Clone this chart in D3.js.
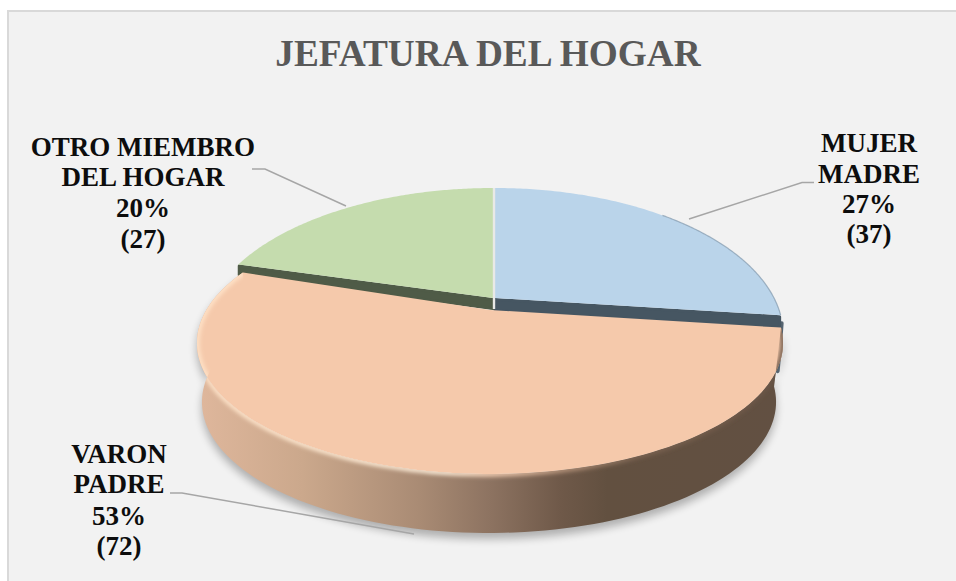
<!DOCTYPE html>
<html><head><meta charset="utf-8">
<script src="https://cdn.jsdelivr.net/npm/d3@7"></script>
<style>html,body{margin:0;padding:0;background:#fff}svg{display:block}text{font-family:"Liberation Serif",serif;font-weight:bold}</style>
</head><body><svg id="c" width="956" height="581"></svg>
<script>
const chartTitle = "JEFATURA DEL HOGAR";
const categories = ["MUJER MADRE", "VARON PADRE", "OTRO MIEMBRO DEL HOGAR"];
const values = [37, 72, 27];
const labelLines = [["MUJER","MADRE"], ["VARON","PADRE"], ["OTRO MIEMBRO","DEL HOGAR"]];
const colors = ["#bad4ea", "#f5c9ab", "#c5dcae"];
const bandColors = ["#465662", "#000000", "#4f5b47"];

const svg = d3.select("#c");
const defs = svg.append("defs");
const W = 956, H = 581;
svg.append("rect").attr("x",8).attr("y",11).attr("width",W).attr("height",H)
  .attr("fill","#f2f2f2").attr("stroke","#d9d9d9").attr("stroke-width",2);

const blur = (id,s)=>defs.append("filter").attr("id",id).attr("x","-20%").attr("y","-20%").attr("width","140%").attr("height","140%")
  .append("feGaussianBlur").attr("stdDeviation",s);
blur("b5",4.5); blur("b2",2.0);

// perspective projection of the tilted disc
const K = 0.2518;
const proj = (g,a)=>{ const x=Math.sin(a), y=Math.cos(a), w=1+K*y;
  return [g.cx+g.rx*x/w, g.cy-g.ry*y/w]; };
const gBlue  = {cx:495, cy:298, rx:279, ry:137.7};
const gGreen = {cx:493, cy:298, rx:281, ry:137.7};
const gTop   = {cx:490, cy:310, rx:283.6, ry:122.7};
const gBase  = {cx:489, cy:369, rx:277.8, ry:122.7};

const pie = d3.pie().sort(null).value(d=>d).startAngle(0).endAngle(2*Math.PI);
const arcs = pie(values);
const deg = Math.PI/180;
const arcPts = (g,a0,a1)=>d3.range(0,121).map(i=>proj(g,a0+(a1-a0)*i/120));
const line = d3.line();
const sector = (g,a0,a1)=>line([[g.cx,g.cy],...arcPts(g,a0,a1)])+"Z";

const [aB,aO,aG] = arcs;
const gs = {o0:aO.startAngle, o1:aO.endAngle+0.8*deg, g0:aG.startAngle-3.5*deg, g1:aG.endAngle, b0:aB.startAngle, b1:aB.endAngle-1*deg};

// side gradient
const side = defs.append("linearGradient").attr("id","side").attr("gradientUnits","userSpaceOnUse")
  .attr("x1",197).attr("x2",783).attr("y1",0).attr("y2",0);
[[0,"#dfb79c"],[.18,"#cba88c"],[.38,"#a98b74"],[.5,"#8d7361"],[.62,"#6f5949"],[.7,"#625040"],[1,"#625042"]]
  .forEach(([o,c])=>side.append("stop").attr("offset",o).attr("stop-color",c));
const rim = defs.append("linearGradient").attr("id","rim").attr("gradientUnits","userSpaceOnUse")
  .attr("x1",197).attr("x2",783).attr("y1",0).attr("y2",0);
[[0,"#ffe3c8"],[.42,"#fff0dc"],[.5,"#f8d3b8"],[.62,"#b8957c"],[.75,"#7c6452"],[1,"#6a5546"]]
  .forEach(([o,c])=>rim.append("stop").attr("offset",o).attr("stop-color",c));

const hull = line([...arcPts(gTop,gs.o0,gs.o1),...arcPts(gBase,gs.o1,gs.o0)])+"Z";

// ground shadow
svg.append("path").attr("d",hull).attr("transform","translate(0,6)").attr("fill","#000").attr("opacity",.28).attr("filter","url(#b5)");

// exposed cut faces behind the pulled-out slice
const bEnd = proj(gBlue,gs.b1), gEnd = proj(gGreen,gs.g0);
const face = (apex,end,h,c)=>svg.append("path")
  .attr("d",line([apex,end,[end[0],end[1]+h],[apex[0],apex[1]+h]])+"Z")
  .attr("fill",c).attr("stroke",c).attr("stroke-width",3).attr("stroke-linejoin","round");
svg.append("path").attr("d",line([[bEnd[0]+1,bEnd[1]+8],[bEnd[0]-1,bEnd[1]+35],[bEnd[0]-3,bEnd[1]+56]]))
  .attr("stroke","#566470").attr("stroke-width",4).attr("stroke-linecap","round").attr("fill","none");
face([gBlue.cx,gBlue.cy+1.5],[bEnd[0]-1,bEnd[1]+1.5],11,bandColors[0]);
face([gGreen.cx,gGreen.cy+1.5],[gEnd[0]+1,gEnd[1]+1.5],9,bandColors[2]);

// back slices
svg.append("path").attr("d",sector(gGreen,gs.g0,gs.g1)).attr("fill",colors[2]);
svg.append("path").attr("d",sector(gBlue,gs.b0,gs.b1)).attr("fill",colors[0]);
svg.append("path").attr("d",line(arcPts(gBlue,45*deg,gs.b1))).attr("fill","none")
  .attr("stroke","#8298ac").attr("stroke-width",1.2).attr("opacity",.7);
svg.append("path").attr("d",line([[494,188],[494,gBlue.cy+11]])).attr("stroke","#e9e9e7").attr("stroke-width",2.4);

// front slice: wall, top, bevel
svg.append("path").attr("d",hull).attr("fill","url(#side)");
defs.append("clipPath").attr("id","clipTop").append("path").attr("d",hull);
const topPath = sector(gTop,gs.o0,gs.o1);
svg.append("path").attr("d",topPath).attr("fill",colors[1]);
svg.append("g").attr("clip-path","url(#clipTop)")
  .append("path").attr("d",line(arcPts(gTop,gs.o0,gs.o1))).attr("fill","none")
  .attr("stroke","url(#rim)").attr("stroke-width",5).attr("filter","url(#b2)");

// title
svg.append("text").attr("x",488).attr("y",66).attr("text-anchor","middle")
  .attr("font-size",37.3).attr("fill","#595959").text(chartTitle);

// labels
const total = d3.sum(values);
const pct = d3.format(".0%");
const labelAt = [{x:869,y:[152,183,213,243]},{x:119,y:[463,493,525,555]},{x:143,y:[156,186,217,248]}];
const leaders = [[[814,182.5],[802,182.5],[689,219]],[[170,493],[182,493],[414,534]],[[252,169],[265,169],[346,206]]];
values.forEach((v,i)=>{
  svg.append("path").attr("d",line(leaders[i])).attr("fill","none").attr("stroke","#a6a6a6").attr("stroke-width",1.5);
  const rows=[...labelLines[i],pct(v/total),`(${v})`];
  rows.forEach((r,j)=>svg.append("text").attr("x",labelAt[i].x).attr("y",labelAt[i].y[j])
    .attr("text-anchor","middle").attr("font-size",27).attr("fill","#0d0d0d").text(r));
});
</script></body></html>
